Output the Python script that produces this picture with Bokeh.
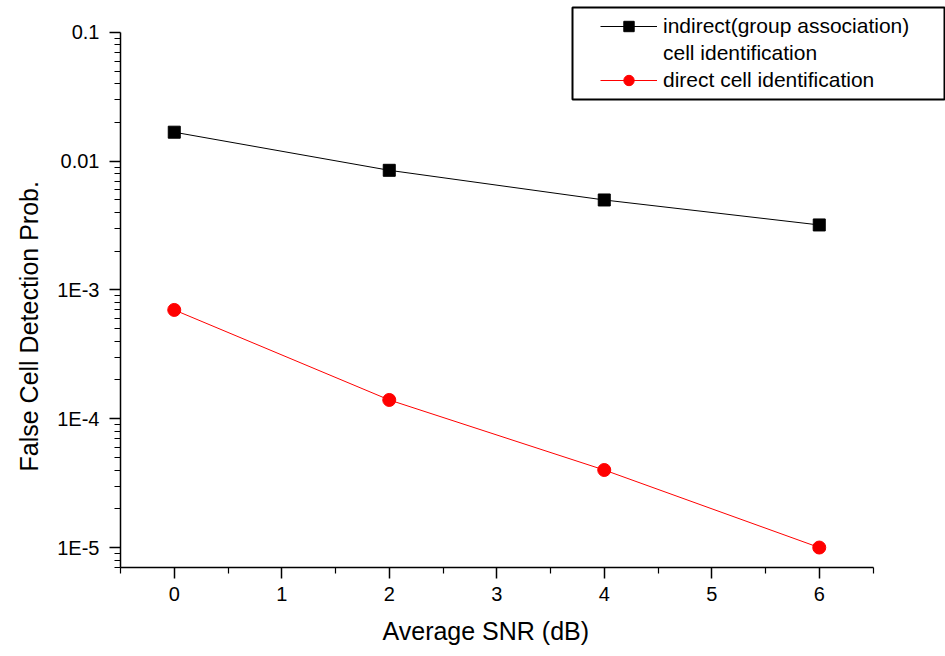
import math
from bokeh.plotting import figure
from bokeh.models import (FixedTicker, Legend, LegendItem, BoxAnnotation,
                          Range1d, ColumnDataSource, Title)
from bokeh.embed import file_html
from bokeh.resources import INLINE

# ---- data ----
snr_db = [0, 2, 4, 6]
indirect = [0.0168, 0.0085, 0.0050, 0.0032]
direct = [7.0e-4, 1.4e-4, 4.0e-5, 1.0e-5]

x_ticks = [0, 1, 2, 3, 4, 5, 6]
x_minor = [-0.5, 0.5, 1.5, 2.5, 3.5, 4.5, 5.5, 6.5]
x_axis_extent = (-0.5, 6.5)
y_ticks = [1e-5, 1e-4, 1e-3, 1e-2, 1e-1]
y_tick_labels = ["1E-5", "1E-4", "1E-3", "0.01", "0.1"]
y_axis_top = 0.1

FONT = "Liberation Sans"

# ---- layout geometry (pixels) ----
W, H = 945, 656
frame_left, frame_right, frame_top, frame_bottom = 120, 945, 0, 568
px_per_x = 107.5          # pixels per dB
px_per_decade = 129.0     # pixels per decade
top_margin_px = 32        # gap between frame top and the 0.1 tick

x_start = x_axis_extent[0]
x_end = x_start + (frame_right - frame_left) / px_per_x
log_top = math.log10(y_axis_top) + top_margin_px / px_per_decade
log_bottom = log_top - (frame_bottom - frame_top) / px_per_decade
y_start, y_end = 10 ** log_bottom, 10 ** log_top

y_minor = [m * 10.0 ** e for e in range(-6, -1) for m in range(2, 10)]
y_minor = [v for v in y_minor if y_start <= v <= y_axis_top]

p = figure(width=W, height=H, y_axis_type="log",
           x_range=Range1d(x_start, x_end), y_range=Range1d(y_start, y_end),
           output_backend="svg", toolbar_location=None,
           min_border_left=frame_left, min_border_right=W - frame_right,
           min_border_top=frame_top, min_border_bottom=H - frame_bottom)
p.outline_line_color = None
p.grid.visible = False
p.background_fill_color = "white"
p.border_fill_color = "white"

# axes
xa = p.xaxis[0]
xa.ticker = FixedTicker(ticks=x_ticks, minor_ticks=x_minor)
xa.bounds = x_axis_extent
ya = p.yaxis[0]
ya.ticker = FixedTicker(ticks=y_ticks, minor_ticks=y_minor)
ya.major_label_overrides = {t: l for t, l in zip(y_ticks, y_tick_labels)}
ya.bounds = (y_start, y_axis_top)

for ax in (xa, ya):
    ax.axis_line_color = "black"
    ax.axis_line_width = 1.5
    ax.major_tick_line_color = "black"
    ax.minor_tick_line_color = "black"
    ax.major_tick_line_width = 1.5
    ax.minor_tick_line_width = 1.2
    ax.major_tick_in = 0
    ax.minor_tick_in = 0
    ax.major_tick_out = 11
    ax.minor_tick_out = 6
    ax.major_label_text_font = FONT
    ax.major_label_text_font_size = "20px"
    ax.major_label_text_color = "black"

xa.major_label_standoff = 8
ya.major_label_standoff = 10

# axis titles (offset so they sit where the reference has them)
xt = Title(text="Average SNR (dB)", align="left", offset=262,
           text_font=FONT, text_font_size="25px", text_font_style="normal",
           text_color="black", standoff=23)
p.add_layout(xt, "below")
yt = Title(text="False Cell Detection Prob.", align="left", offset=96,
           text_font=FONT, text_font_size="25px", text_font_style="normal",
           text_color="black", standoff=23)
p.add_layout(yt, "left")

# series
src_i = ColumnDataSource(dict(x=snr_db, y=indirect))
src_d = ColumnDataSource(dict(x=snr_db, y=direct))
li = p.line("x", "y", source=src_i, line_color="black", line_width=1)
si = p.scatter("x", "y", source=src_i, marker="square", size=12,
               fill_color="black", line_color="black")
ld = p.line("x", "y", source=src_d, line_color="#ff0000", line_width=1)
sd = p.scatter("x", "y", source=src_d, marker="circle", size=13,
               fill_color="#ff0000", line_color="#ff0000")
dummy = p.line(x=[], y=[], line_alpha=0)

# legend frame
box = BoxAnnotation(left=572, right=944, top=7, bottom=99,
                    left_units="canvas", right_units="canvas",
                    top_units="canvas", bottom_units="canvas",
                    fill_color="white", fill_alpha=1.0,
                    line_color="black", line_alpha=1.0, line_width=2)
p.add_layout(box)

legend = Legend(items=[
    LegendItem(label="indirect(group association)", renderers=[li, si]),
    LegendItem(label="cell identification", renderers=[dummy]),
    LegendItem(label="direct cell identification", renderers=[ld, sd]),
], location=(600 - frame_left, frame_bottom - 94))
legend.border_line_color = None
legend.background_fill_alpha = 0
legend.glyph_width = 57
legend.glyph_height = 26
legend.label_height = 26
legend.spacing = 1
legend.label_standoff = 6
legend.label_text_font = FONT
legend.label_text_font_size = "21px"
legend.label_text_color = "black"
legend.margin = 0
p.add_layout(legend)

open("out.html", "w").write(file_html(p, INLINE))
